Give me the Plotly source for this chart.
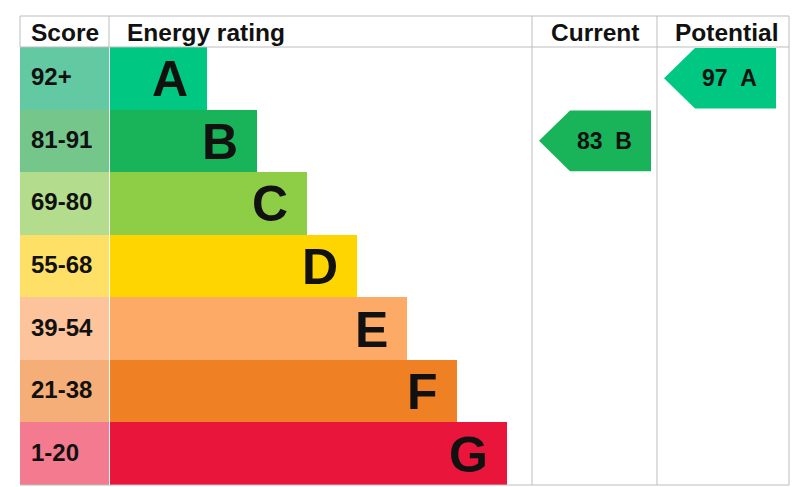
import plotly.graph_objects as go

# region Data
bands = ["A", "B", "C", "D", "E", "F", "G"]
score_ranges = ["92+", "81-91", "69-80", "55-68", "39-54", "21-38", "1-20"]
band_min = [92, 81, 69, 55, 39, 21, 1]
bar_lengths = [97, 147, 197, 247, 297, 347, 397]
band_colors = ["#00c781", "#19b459", "#8dce46", "#ffd500", "#fcaa65", "#ef8023", "#e9153b"]
score_colors = ["#63c9a2", "#74c68b", "#b3dd8c", "#ffe066", "#fdc49c", "#f5ae78", "#f47a8f"]
current_score = 83
potential_score = 97
# endregion

# layout in page pixel units (page body has an 8px margin)
PAD = 8
W, H = 810 - PAD, 487 - PAD
left, right = 20, 789
top, head_bottom, bottom = 16, 47, 485
col_score_end = 109
col_bar_start = 110
col_current = (532, 657)
col_potential = (657, 789)
row_h = (bottom - head_bottom) / len(bands)
centers = [head_bottom + row_h * (i + 0.5) for i in range(len(bands))]
FONT = "Liberation Sans, Arial, sans-serif"
LINE = "#bdbdbd"


def band_index(score):
    for i, lo in enumerate(band_min):
        if score >= lo:
            return i
    return len(bands) - 1


fig = go.Figure()

# Score column cells
fig.add_trace(go.Bar(
    orientation="h", y=centers, x=[col_score_end - left] * len(bands), base=left,
    width=row_h, marker=dict(color=score_colors, line_width=0), hoverinfo="skip"))

# Rating bars
fig.add_trace(go.Bar(
    orientation="h", y=centers, x=bar_lengths, base=col_bar_start,
    width=row_h, marker=dict(color=band_colors, line_width=0), hoverinfo="skip"))

annotations = []
for i, b in enumerate(bands):
    annotations.append(dict(
        x=col_bar_start + bar_lengths[i] - 17, y=centers[i] + 1, text=f"<b>{b}</b>",
        xanchor="right", yanchor="middle", showarrow=False,
        font=dict(family=FONT, size=50, color="#111")))
    annotations.append(dict(
        x=left + 9, y=centers[i] - 1.5, text=f"<b>{score_ranges[i]}</b>",
        xanchor="left", yanchor="middle", showarrow=False,
        font=dict(family=FONT, size=24, color="#111")))


# Arrows for current / potential
def add_arrow(score, col):
    i = band_index(score)
    y0 = head_bottom + row_h * i + 1
    y1 = head_bottom + row_h * (i + 1) - 1
    tip = col[0] + 7
    end = col[1] - 6 if col is col_current else col[1] - 13
    body = tip + 31
    fig.add_trace(go.Scatter(
        x=[end, body, tip, body, end, end], y=[y0, y0, (y0 + y1) / 2, y1, y1, y0],
        mode="lines", fill="toself", fillcolor=band_colors[i],
        line=dict(width=0, color=band_colors[i]), hoverinfo="skip"))
    annotations.append(dict(
        x=(tip + end) / 2 + 9, y=(y0 + y1) / 2, text=f"<b>{score}\u00a0\u00a0{bands[i]}</b>",
        xanchor="center", yanchor="middle", showarrow=False,
        font=dict(family=FONT, size=23, color="#111")))


add_arrow(current_score, col_current)
add_arrow(potential_score, col_potential)

# Header texts
for txt, x, anchor in [("Score", left + 9, "left"), ("Energy rating", col_score_end + 16, "left"),
                       ("Current", sum(col_current) / 2, "center"),
                       ("Potential", sum(col_potential) / 2 + 3, "center")]:
    annotations.append(dict(
        x=x, y=(top + head_bottom) / 2 + 1, text=f"<b>{txt}</b>", xanchor=anchor,
        yanchor="middle", showarrow=False, font=dict(family=FONT, size=24.5, color="#111")))

# Table lines
shapes = []
for y in (top, head_bottom, bottom):
    shapes.append(dict(type="line", x0=left, x1=right, y0=y, y1=y, line=dict(color=LINE, width=1)))
for x in (left, col_score_end):
    shapes.append(dict(type="line", x0=x, x1=x, y0=top, y1=head_bottom, line=dict(color=LINE, width=1)))
for x in (col_current[0], col_potential[0], right):
    shapes.append(dict(type="line", x0=x, x1=x, y0=top, y1=bottom, line=dict(color=LINE, width=1)))

fig.update_layout(
    width=W, height=H, margin=dict(l=0, r=0, t=0, b=0),
    paper_bgcolor="white", plot_bgcolor="white", showlegend=False,
    barmode="overlay", bargap=0,
    xaxis=dict(range=[PAD, PAD + W], visible=False, fixedrange=True),
    yaxis=dict(range=[PAD + H, PAD], visible=False, fixedrange=True),
    annotations=annotations, shapes=shapes)

fig.write_html("out.html", config={"displayModeBar": False})
